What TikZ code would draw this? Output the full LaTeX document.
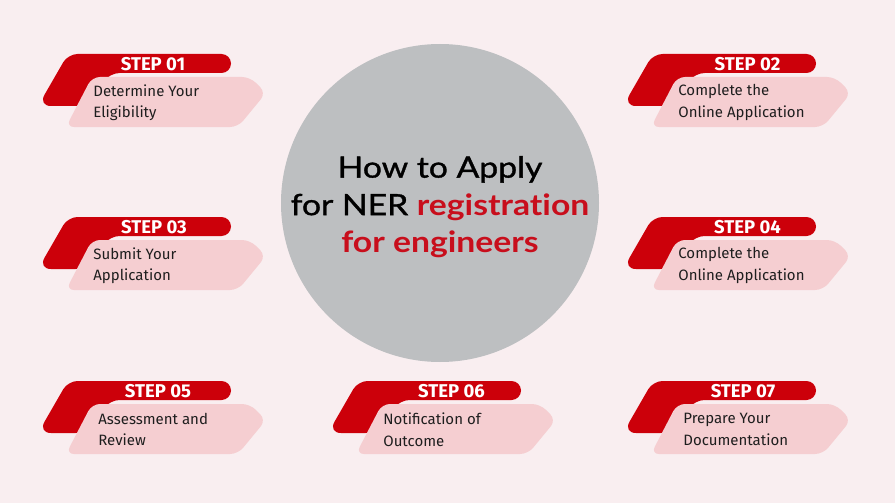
\documentclass[tikz,border=0pt]{standalone}
\usepackage{fontspec}
\setmainfont{Fira Sans}
\newfontfamily\titlefont[FakeStretch=1.15,Ligatures=NoCommon]{Lato}
\newfontfamily\titlemedium[FakeStretch=1.15,FakeBold=1.2,Ligatures=NoCommon]{Lato}

\definecolor{bgpink}{RGB}{249,238,240}
\definecolor{stepred}{RGB}{204,0,10}
\definecolor{cardpink}{RGB}{245,206,209}
\definecolor{discgray}{RGB}{189,191,193}
\definecolor{titlered}{RGB}{200,14,28}
\definecolor{bodytext}{RGB}{30,30,30}

\tikzset{every picture/.style={line width=0.75pt}}
\tikzset{
  redtab/.style={fill=stepred, rounded corners=9.5pt},
  pinkcard/.style={fill=cardpink, rounded corners=8pt},
  steplabel/.style={text=white, font=\fontsize{18.5}{20}\selectfont\bfseries, inner sep=0pt},
  desctext/.style={text=bodytext, font=\fontsize{15}{21.5}\selectfont, align=left, inner sep=0pt, anchor=west},
  titletext/.style={font=\titlefont\fontsize{29.3}{37.5}\selectfont, align=center, inner sep=0pt}
}

\begin{document}
\begin{tikzpicture}[x=1pt,y=1pt,yscale=-1,xscale=1]
% background
\fill[bgpink] (0,0) rectangle (895,503);
\useasboundingbox (0,0) rectangle (895,503);

% Circle
\fill[discgray] (440,203) circle (159);
% Text Node
\node[titletext] (title) at (440,207) {\titlemedium How to Apply\\\titlemedium for NER \textcolor{titlered}{\titlefont\bfseries registration}\\\textcolor{titlered}{\titlefont\bfseries for engineers}};

% Step cards: shift x / shift y / label dx / text dx / number / lines
\foreach \dx/\dy/\sx/\tx/\n/\la/\lb in {
    0/0/0/0/01/Determine Your/Eligibility,
    585/0/9.5/0/02/Complete the/Online Application,
    0/163/1/0/03/Submit Your/Application,
    585/163/9.5/0/04/Complete the/Online Application,
    0/327/5/5/05/Assessment and/Review,
    290/327/8.5/0/06/Notification of/Outcome,
    585/327/5/5/07/Prepare Your/Documentation}{
  \begin{scope}[shift={(\dx,\dy)}]
    \fill[redtab] (68,54) -- (231,54) -- (231,73) -- (110,73) -- (85,106) [rounded corners=13pt] -- (38,106) [rounded corners=9.5pt] -- cycle;
    \fill[pinkcard] (92,77) -- (250,77) -- (266,93) -- (238,127) -- (66,127) -- cycle;
    \node[steplabel] (step\n) at (153+\sx,64) {STEP \n};
    \node[desctext] (desc\n) at (93+\tx,102.5) {\la\\\lb};
  \end{scope}
}

\end{tikzpicture}
\end{document}
